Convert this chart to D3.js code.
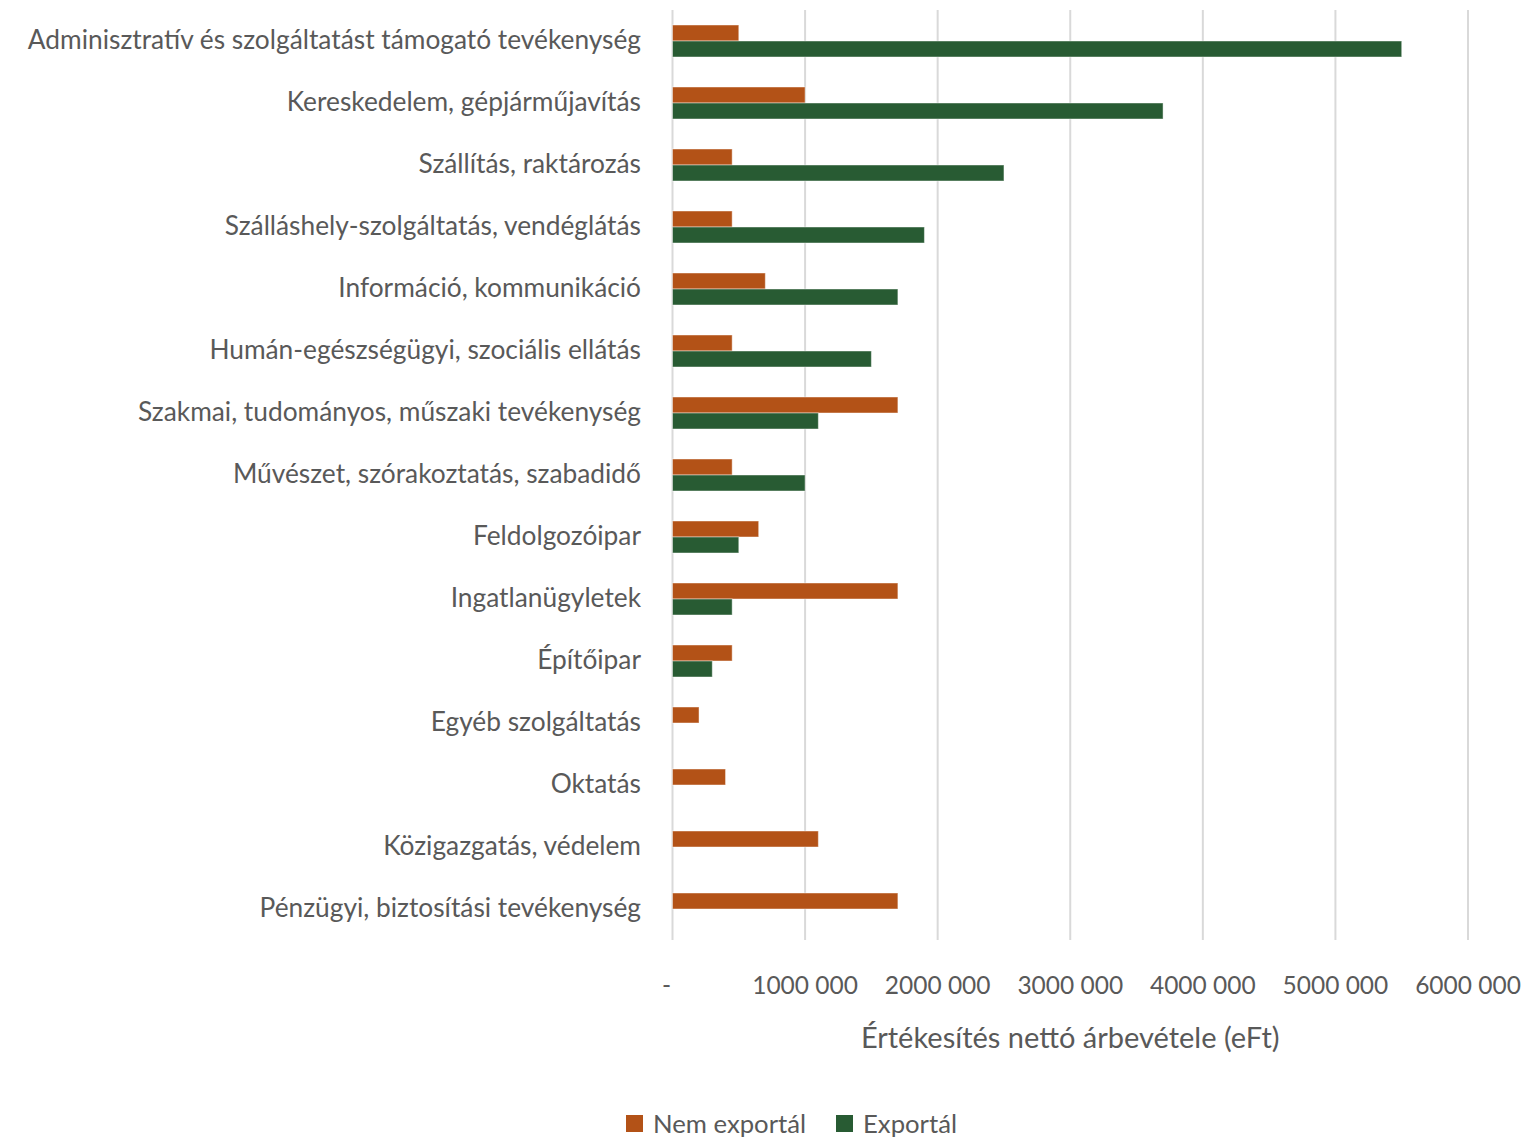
<!DOCTYPE html>
<html>
<head>
<meta charset="utf-8">
<script src="https://cdn.jsdelivr.net/npm/d3@7"></script>
<style>
  html, body { margin: 0; padding: 0; background: #fff; }
  svg { display: block; }
  text { font-family: Lato, "Open Sans", sans-serif; fill: #595959; }
</style>
</head>
<body>
<svg id="chart" width="1526" height="1137"></svg>
<script>
// Industry sectors, top to bottom
const categories = [
  "Adminisztratív és szolgáltatást támogató tevékenység",
  "Kereskedelem, gépjárműjavítás",
  "Szállítás, raktározás",
  "Szálláshely-szolgáltatás, vendéglátás",
  "Információ, kommunikáció",
  "Humán-egészségügyi, szociális ellátás",
  "Szakmai, tudományos, műszaki tevékenység",
  "Művészet, szórakoztatás, szabadidő",
  "Feldolgozóipar",
  "Ingatlanügyletek",
  "Építőipar",
  "Egyéb szolgáltatás",
  "Oktatás",
  "Közigazgatás, védelem",
  "Pénzügyi, biztosítási tevékenység"
];

// Net sales revenue (thousand HUF)
const nemExportal = [500000, 1000000, 450000, 450000, 700000, 450000, 1700000, 450000, 650000, 1700000, 450000, 200000, 400000, 1100000, 1700000];
const exportal    = [5500000, 3700000, 2500000, 1900000, 1700000, 1500000, 1100000, 1000000, 500000, 450000, 300000, 0, 0, 0, 0];

const seriesNames = ["Nem exportál", "Exportál"];
const seriesValues = [nemExportal, exportal];
const seriesColors = ["#B35217", "#285B33"];

const xTicks = [0, 1000000, 2000000, 3000000, 4000000, 5000000, 6000000];
const xTitle = "Értékesítés nettó árbevétele (eFt)";

const svg = d3.select("#chart");
const plot = { left: 672.5, right: 1468, top: 10, bottom: 940 };

const x = d3.scaleLinear().domain([0, 6000000]).range([plot.left, plot.right]);
const y0 = d3.scaleBand().domain(categories).range([plot.top, plot.bottom])
  .paddingInner(30 / 62).paddingOuter(15 / 62);
const y1 = d3.scaleBand().domain(seriesNames).range([0, y0.bandwidth()]);

// Millions and thousands split by a space, zero shown as a dash
const fmt = v => v === 0 ? "-" : Math.floor(v / 1000) + " " + String(v % 1000).padStart(3, "0");

// Vertical gridlines
svg.append("g")
  .selectAll("line")
  .data(xTicks)
  .join("line")
  .attr("x1", d => x(d)).attr("x2", d => x(d))
  .attr("y1", plot.top).attr("y2", plot.bottom)
  .attr("stroke", "#D9D9D9").attr("stroke-width", 2);

// Bars
const rows = categories.map((c, i) => ({ c, vals: seriesNames.map((s, j) => ({ s, j, v: seriesValues[j][i] })) }));
svg.append("g")
  .selectAll("g")
  .data(rows)
  .join("g")
  .attr("transform", d => `translate(0,${y0(d.c)})`)
  .selectAll("rect")
  .data(d => d.vals.filter(e => e.v > 0))
  .join("rect")
  .attr("x", x(0))
  .attr("y", d => y1(d.s))
  .attr("width", d => x(d.v) - x(0))
  .attr("height", y1.bandwidth())
  .attr("fill", d => seriesColors[d.j])
  .attr("stroke", "rgba(255,255,255,0.45)")
  .attr("stroke-width", 1);

// Category labels
svg.append("g")
  .selectAll("text")
  .data(categories)
  .join("text")
  .attr("x", 641)
  .attr("y", d => y0(d) + y0.bandwidth() / 2 - 2)
  .attr("text-anchor", "end")
  .attr("dominant-baseline", "central")
  .style("font-size", "26.3px")
  .text(d => d);

// X tick labels
svg.append("g")
  .selectAll("text")
  .data(xTicks)
  .join("text")
  .attr("x", d => d === 0 ? x(d) - 6 : x(d))
  .attr("y", 984)
  .attr("text-anchor", "middle")
  .attr("dominant-baseline", "central")
  .style("font-size", "24.5px")
  .text(d => fmt(d));

// Axis title
svg.append("text")
  .attr("x", (plot.left + plot.right) / 2)
  .attr("y", 1036)
  .attr("text-anchor", "middle")
  .attr("dominant-baseline", "central")
  .style("font-size", "29px")
  .text(xTitle);

// Legend
const legend = svg.append("g");
const legendX = [626, 836];
seriesNames.forEach((s, j) => {
  legend.append("rect")
    .attr("x", legendX[j]).attr("y", 1115)
    .attr("width", 17).attr("height", 17)
    .attr("fill", seriesColors[j]);
  legend.append("text")
    .attr("x", legendX[j] + 27).attr("y", 1122.5)
    .attr("dominant-baseline", "central")
    .style("font-size", "25.7px")
    .text(s);
});
</script>
</body>
</html>
